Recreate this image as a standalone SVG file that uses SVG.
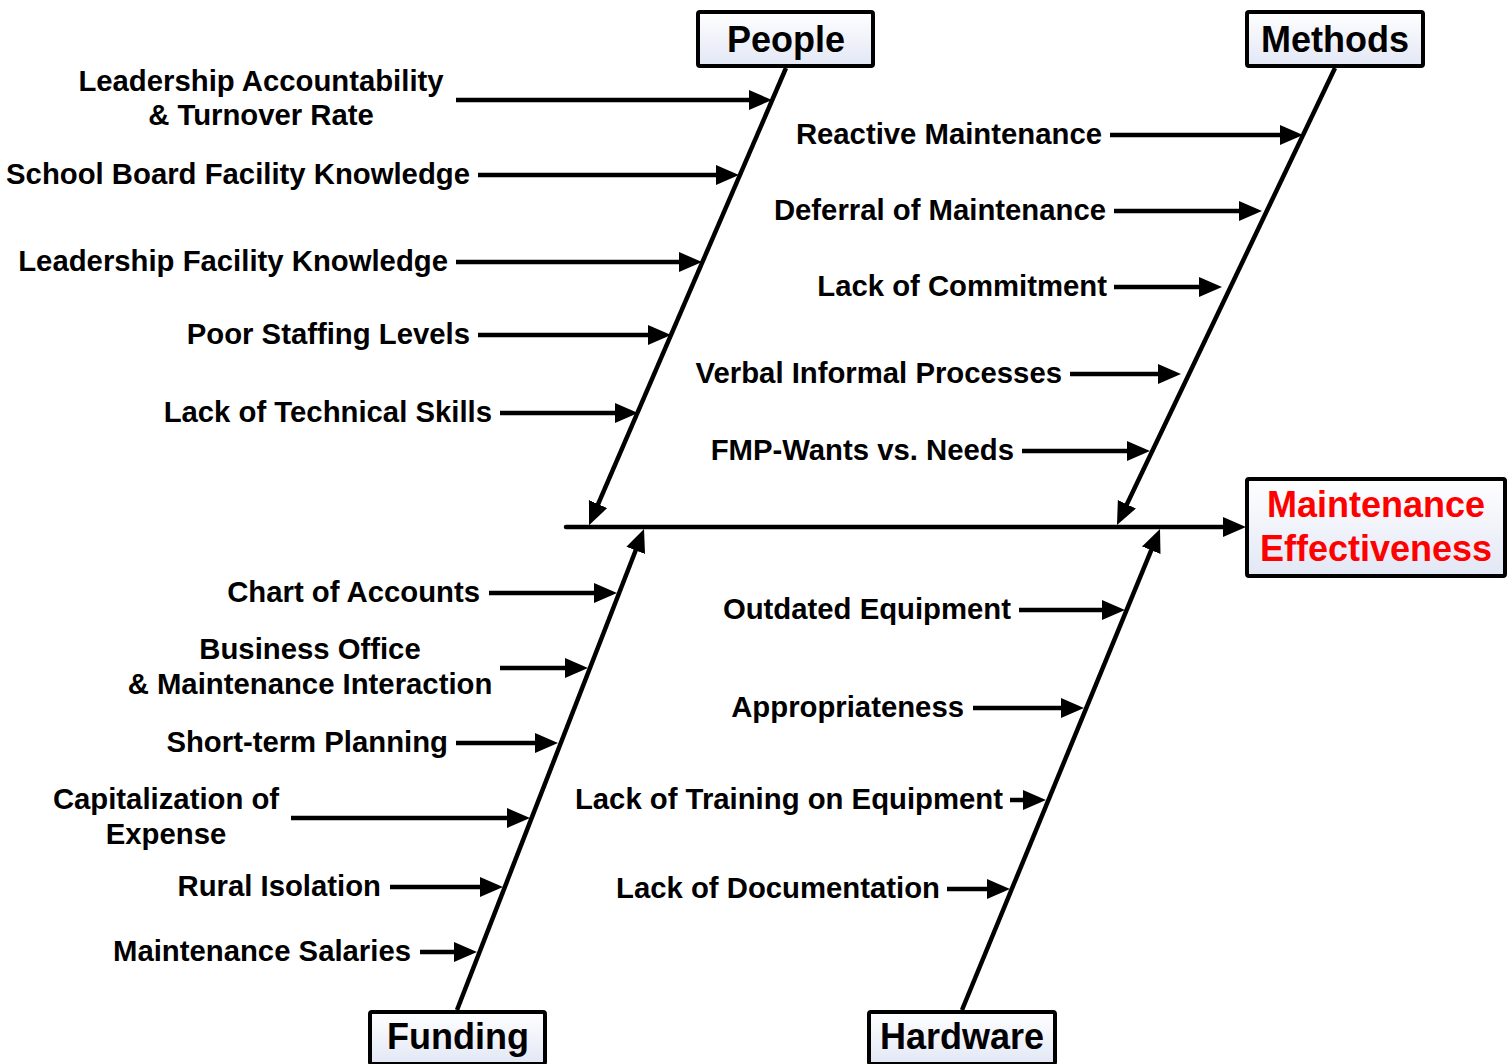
<svg xmlns="http://www.w3.org/2000/svg" width="1512" height="1064" viewBox="0 0 1512 1064">
<style>
.box{stroke:#000;stroke-width:4;fill:url(#g)}
.title{font-family:"Liberation Sans",Arial,sans-serif;font-weight:bold;font-size:36px;fill:#000;text-anchor:middle}
.red{fill:#ff0000}
.lbl{font-family:"Liberation Sans",Arial,sans-serif;font-weight:bold;font-size:29.3px;fill:#000;text-anchor:end}
.ctr{text-anchor:middle}
.ln{stroke:#000;stroke-width:4.5;fill:none;marker-end:url(#ah)}
.bone{stroke:#000;stroke-width:4.5;fill:none;marker-end:url(#ah)}
</style>
<defs>
<linearGradient id="g" x1="0" y1="0" x2="0" y2="1">
<stop offset="0" stop-color="#ffffff"/>
<stop offset="1" stop-color="#e2e7f5"/>
</linearGradient>
<marker id="ah" markerUnits="userSpaceOnUse" markerWidth="24" markerHeight="22" refX="13" refY="10" orient="auto" viewBox="0 0 24 22">
<path d="M0,0 L23,10 L0,20 z" fill="#000"/>
</marker>
</defs>
<rect width="1512" height="1064" fill="#fff"/>

<g id="connectors">
<line class="bone" x1="566" y1="527" x2="1236" y2="527" stroke-linecap="round"/>
<line class="bone" x1="786" y1="68" x2="593" y2="516"/>
<line class="bone" x1="1335" y1="68" x2="1121.3" y2="516"/>
<line class="bone" x1="457" y1="1010" x2="640.4" y2="538.3"/>
<line class="bone" x1="962" y1="1010" x2="1156.2" y2="538.2"/>

<line class="ln" x1="456" y1="100" x2="762" y2="100"/>
<line class="ln" x1="478" y1="175" x2="729" y2="175"/>
<line class="ln" x1="456" y1="262" x2="692" y2="262"/>
<line class="ln" x1="478" y1="335" x2="661" y2="335"/>
<line class="ln" x1="500" y1="413" x2="628" y2="413"/>

<line class="ln" x1="1110" y1="135" x2="1293" y2="135"/>
<line class="ln" x1="1114" y1="211" x2="1252" y2="211"/>
<line class="ln" x1="1114" y1="287" x2="1212" y2="287"/>
<line class="ln" x1="1070" y1="374" x2="1171" y2="374"/>
<line class="ln" x1="1022" y1="451" x2="1140" y2="451"/>

<line class="ln" x1="489" y1="593" x2="607" y2="593"/>
<line class="ln" x1="500" y1="668" x2="578" y2="668"/>
<line class="ln" x1="456" y1="743" x2="548" y2="743"/>
<line class="ln" x1="291" y1="818" x2="520" y2="818"/>
<line class="ln" x1="390" y1="887" x2="493" y2="887"/>
<line class="ln" x1="420" y1="952" x2="467" y2="952"/>

<line class="ln" x1="1019" y1="610" x2="1115" y2="610"/>
<line class="ln" x1="973" y1="708" x2="1074" y2="708"/>
<line class="ln" x1="1010" y1="800" x2="1036" y2="800"/>
<line class="ln" x1="947" y1="889" x2="1000" y2="889"/>
</g>

<g id="people">
<rect class="box" x="698" y="12" width="175" height="54" rx="2"/>
<text class="title" x="786" y="52">People</text>
</g>
<g id="methods">
<rect class="box" x="1247" y="12" width="176" height="54" rx="2"/>
<text class="title" x="1335" y="52">Methods</text>
</g>
<g id="funding">
<rect class="box" x="370" y="1012" width="175" height="52" rx="2"/>
<text class="title" x="458" y="1049">Funding</text>
</g>
<g id="hardware">
<rect class="box" x="869" y="1012" width="186" height="52" rx="2"/>
<text class="title" x="962" y="1049">Hardware</text>
</g>
<g id="effect">
<rect class="box" x="1247" y="479" width="258" height="97" rx="2"/>
<text class="title red" x="1376" y="517">Maintenance</text>
<text class="title red" x="1376" y="561">Effectiveness</text>
</g>

<g id="people-causes">
<text class="lbl ctr" x="261" y="91">Leadership Accountability</text>
<text class="lbl ctr" x="261" y="125">&amp; Turnover Rate</text>
<text class="lbl" x="470" y="184">School Board Facility Knowledge</text>
<text class="lbl" x="448" y="271">Leadership Facility Knowledge</text>
<text class="lbl" x="470" y="344">Poor Staffing Levels</text>
<text class="lbl" x="492" y="422">Lack of Technical Skills</text>
</g>
<g id="methods-causes">
<text class="lbl" x="1102" y="144">Reactive Maintenance</text>
<text class="lbl" x="1106" y="220">Deferral of Maintenance</text>
<text class="lbl" x="1107" y="296">Lack of Commitment</text>
<text class="lbl" x="1062" y="383">Verbal Informal Processes</text>
<text class="lbl" x="1014" y="460">FMP-Wants vs. Needs</text>
</g>
<g id="funding-causes">
<text class="lbl" x="480" y="602">Chart of Accounts</text>
<text class="lbl ctr" x="310" y="659">Business Office</text>
<text class="lbl ctr" x="310" y="694">&amp; Maintenance Interaction</text>
<text class="lbl" x="448" y="752">Short-term Planning</text>
<text class="lbl ctr" x="166" y="809">Capitalization of</text>
<text class="lbl ctr" x="166" y="844">Expense</text>
<text class="lbl" x="381" y="896">Rural Isolation</text>
<text class="lbl" x="411" y="961">Maintenance Salaries</text>
</g>
<g id="hardware-causes">
<text class="lbl" x="1011" y="619">Outdated Equipment</text>
<text class="lbl" x="964" y="717">Appropriateness</text>
<text class="lbl" x="1003" y="809">Lack of Training on Equipment</text>
<text class="lbl" x="940" y="898">Lack of Documentation</text>
</g>
</svg>
